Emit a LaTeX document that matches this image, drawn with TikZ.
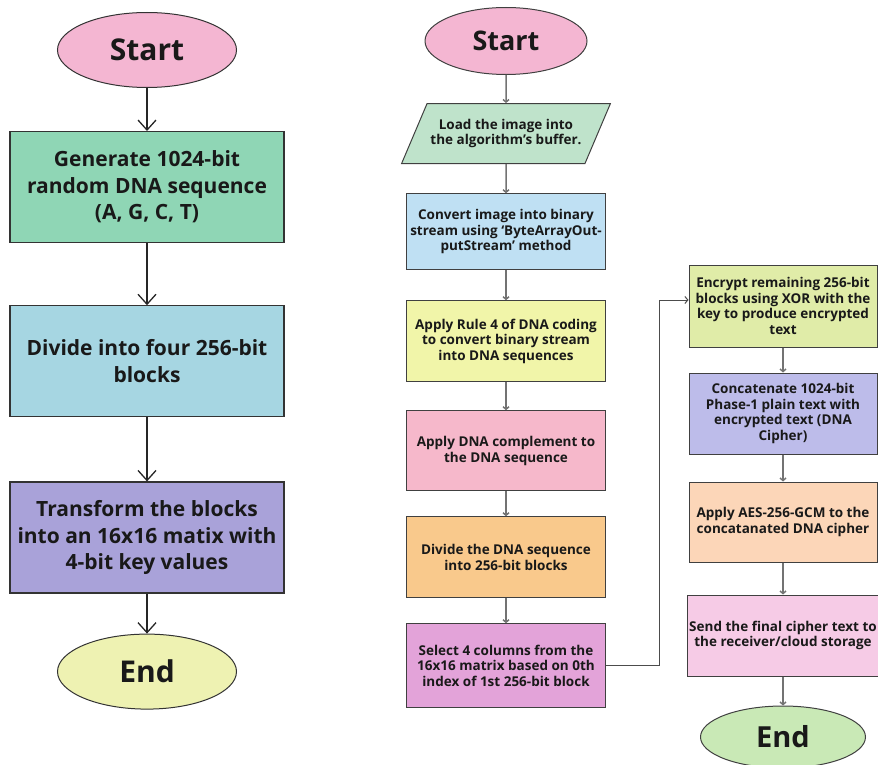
\documentclass[tikz,border=0pt]{standalone}
\usepackage{fontspec}
\setmainfont{Open Sans}
\usepackage{tikz}
\usetikzlibrary{positioning, arrows.meta, shapes.geometric}

\definecolor{ovalpink}{HTML}{F4B6D2}
\definecolor{ovallime}{HTML}{EEF2B2}
\definecolor{ovalgreen}{HTML}{C9E9B6}
\definecolor{boxmint}{HTML}{8FD6B5}
\definecolor{boxteal}{HTML}{A6D6E2}
\definecolor{boxviolet}{HTML}{A9A2D9}
\definecolor{boxsage}{HTML}{BFE3CB}
\definecolor{boxsky}{HTML}{BFE0F3}
\definecolor{boxlemon}{HTML}{F1F5A9}
\definecolor{boxrose}{HTML}{F6B8CB}
\definecolor{boxorange}{HTML}{F9C98C}
\definecolor{boxorchid}{HTML}{E3A3D9}
\definecolor{boxlime}{HTML}{E0ECA8}
\definecolor{boxlavender}{HTML}{BDBCEA}
\definecolor{boxpeach}{HTML}{FCD6B8}
\definecolor{boxblush}{HTML}{F6CBE6}

\begin{document}
\begin{tikzpicture}[x=1pt, y=-1pt,
  bigbox/.style={draw=black!80, line width=1.2pt, minimum width=274pt, minimum height=111pt,
    align=center, text=black!90, font=\fontsize{21}{26.5}\selectfont\bfseries},
  bigoval/.style={ellipse, draw=black!80, line width=1pt, minimum width=179pt, minimum height=75pt,
    inner sep=0pt, text=black!90, font=\fontsize{30}{36}\selectfont\bfseries},
  smallbox/.style={draw=black!75, line width=1pt, minimum width=199pt, minimum height=80pt,
    align=center, inner xsep=2pt, text=black!90, font=\fontsize{13.5}{15.7}\selectfont\bfseries},
  smalloval/.style={ellipse, draw=black!75, line width=1pt, minimum width=162pt, minimum height=67pt,
    inner sep=0pt, text=black!90, font=\fontsize{27}{32}\selectfont\bfseries},
  bigarr/.style={draw=black!85, line width=1.3pt, -{Straight Barb[length=10pt,width=18pt]}},
  smallarr/.style={draw=black!55, line width=1.5pt, -{Straight Barb[length=2.5pt,width=6pt]}}]

  \useasboundingbox (0,0) rectangle (878,765);

  % key generation
  \node[bigoval, fill=ovalpink] at (147,50) (s0) {Start};
  \node[bigbox, fill=boxmint, below=43pt of s0] (s1) {Generate 1024-bit\\random DNA sequence\\(A, G, C, T)};
  \node[bigbox, fill=boxteal, below=62pt of s1] (s2) {Divide into four 256-bit\\blocks};
  \node[bigbox, fill=boxviolet, below=64pt of s2] (s3) {Transform the blocks\\into an 16x16 matix with\\4-bit key values};
  \node[bigoval, fill=ovallime, below=40pt of s3] (s4) {End};

  \draw (s0) edge[bigarr] (s1);
  \draw (s1) edge[bigarr] (s2);
  \draw (s2) edge[bigarr] (s3);
  \draw (s3) edge[bigarr] (s4);

  % encryption
  \node[smalloval, fill=ovalpink] at (506,41) (m0) {Start};
  \node[trapezium, trapezium left angle=67, trapezium right angle=113, trapezium stretches body=true,
    draw=black!75, line width=1pt, fill=boxsage, minimum width=207pt, inner ysep=15.5pt,
    align=center, text=black!90, font=\fontsize{13.5}{15.7}\selectfont\bfseries,
    below=28pt of m0] (m1) {Load the image into\\the algorithm's buffer.};
  \node[smallbox, fill=boxsky, minimum height=76pt, below=29pt of m1] (m2) {Convert image into binary\\stream using `ByteArrayOut-\\putStream' method};
  \node[smallbox, fill=boxlemon, minimum height=81pt, below=30pt of m2] (m3) {Apply Rule 4 of DNA coding\\to convert binary stream\\into DNA sequences};
  \node[smallbox, fill=boxrose, below=28pt of m3] (m4) {Apply DNA complement to\\the DNA sequence};
  \node[smallbox, fill=boxorange, minimum height=81pt, below=25pt of m4] (m5) {Divide the DNA sequence\\into 256-bit blocks};
  \node[smallbox, fill=boxorchid, minimum height=84pt, below=25pt of m5] (m6) {Select 4 columns from the\\16x16 matrix based on 0th\\index of 1st 256-bit block};

  \node[smallbox, fill=boxlime, minimum width=188pt, minimum height=82pt] at (783,306) (r0) {Encrypt remaining 256-bit\\blocks using XOR with the\\key to produce encrypted\\text};
  \node[smallbox, fill=boxlavender, minimum width=188pt, minimum height=81pt, below=25pt of r0] (r1) {Concatenate 1024-bit\\Phase-1 plain text with\\encrypted text (DNA\\Cipher)};
  \node[smallbox, fill=boxpeach, minimum width=188pt, below=27pt of r1] (r2) {Apply AES-256-GCM to the\\concatanated DNA cipher};
  \node[smallbox, fill=boxblush, minimum width=188pt, minimum height=81pt, below=32pt of r2] (r3) {Send the final cipher text to\\the receiver/cloud storage};
  \node[smalloval, fill=ovalgreen, minimum width=165pt, minimum height=62pt, font=\fontsize{29}{34}\selectfont\bfseries, below=29pt of r3] (r4) {End};

  \draw (m0) edge[smallarr] (m1);
  \draw (m1) edge[smallarr] (m2);
  \draw (m2) edge[smallarr] (m3);
  \draw (m3) edge[smallarr] (m4);
  \draw (m4) edge[smallarr] (m5);
  \draw (m5) edge[smallarr] (m6);
  \draw[draw=black!70, line width=1pt, -{Straight Barb[length=3pt,width=7pt]}]
    (m6.east) -- ++(53,0) |- ([yshift=6pt]r0.west);
  \draw (r0) edge[smallarr] (r1);
  \draw (r1) edge[smallarr] (r2);
  \draw (r2) edge[smallarr] (r3);
  \draw (r3) edge[smallarr] (r4);
\end{tikzpicture}
\end{document}
